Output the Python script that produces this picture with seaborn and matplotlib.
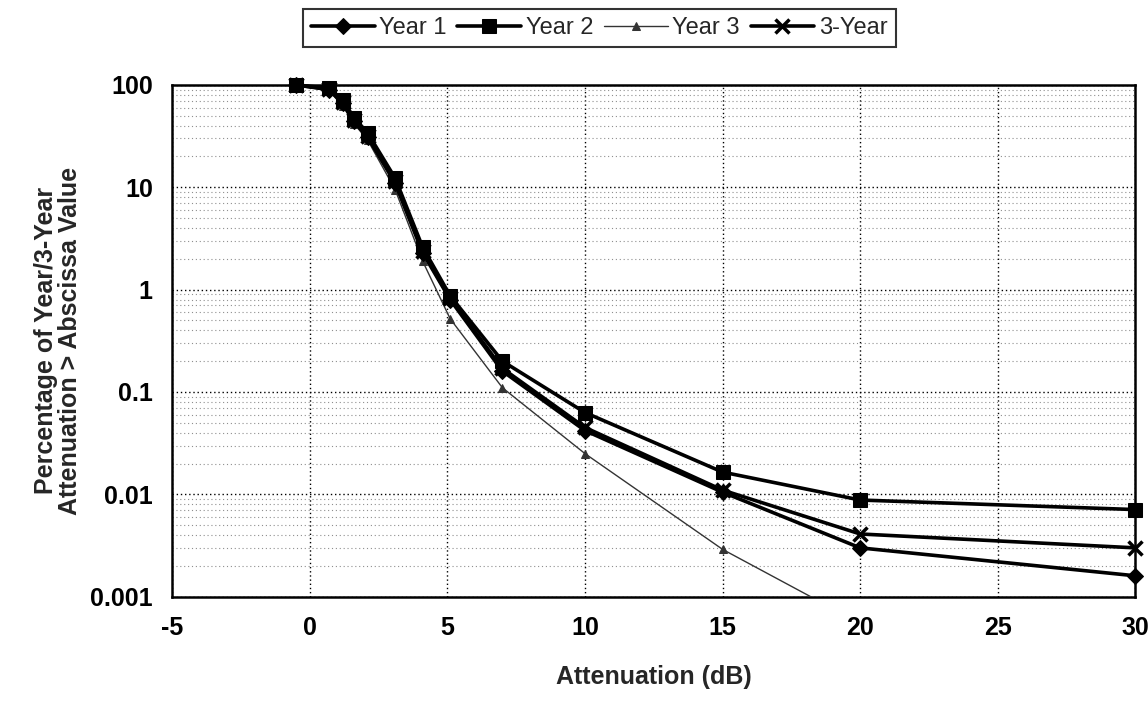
import numpy as np
import pandas as pd
import matplotlib
matplotlib.use("Agg")
import matplotlib.pyplot as plt
import seaborn as sns
from matplotlib.ticker import FixedLocator, NullFormatter, LogLocator

# Attenuation thresholds (dB)
atten = [-0.5, 0.7, 1.2, 1.6, 2.1, 3.1, 4.1, 5.1, 7, 10, 15, 20, 30]

# Percentage of time attenuation exceeds the threshold
year1 = [100, 90, 66, 44, 31, 11.0, 2.3, 0.80, 0.16, 0.042, 0.0105, 0.0030, 0.0016]
year2 = [100, 93, 71, 48, 34, 12.3, 2.6, 0.87, 0.20, 0.063, 0.0165, 0.0088, 0.0071]
year3_x = [-0.5, 0.7, 1.2, 1.6, 2.1, 3.1, 4.1, 5.1, 7, 10, 15, 20]
year3 = [100, 88, 62, 42, 29, 9.5, 1.9, 0.52, 0.11, 0.025, 0.0029, 0.00055]
three_year = [100, 91, 68, 45, 32, 11.5, 2.4, 0.82, 0.17, 0.045, 0.011, 0.0041, 0.0030]

x_ticks = [-5, 0, 5, 10, 15, 20, 25, 30]
y_ticks = [0.001, 0.01, 0.1, 1, 10, 100]
y_tick_labels = ["0.001", "0.01", "0.1", "1", "10", "100"]

sns.set_style("white")
plt.rcParams["font.family"] = ["Liberation Sans", "DejaVu Sans"]

fig = plt.figure(figsize=(11.48, 7.02), dpi=100)
ax = fig.add_axes([0.150, 0.150, 0.839, 0.729])
ax.set_yscale("log")

# Grid: dotted lines at every decade and sub-decade, and every 5 dB
ax.set_axisbelow(True)
ax.yaxis.set_minor_locator(LogLocator(base=10, subs=np.arange(2, 10)))
ax.yaxis.set_minor_formatter(NullFormatter())
ax.grid(which="major", axis="both", color="black", linestyle=(0, (1, 2)), linewidth=1.0)
ax.grid(which="minor", axis="y", color="#8f8f8f", linestyle=(0, (1, 2.5)), linewidth=0.8)

sns.lineplot(x=year3_x, y=year3, ax=ax, color="#333333", linewidth=1.0,
             marker="^", markersize=6, markeredgecolor="#333333",
             label="Year 3", zorder=3, sort=False)
sns.lineplot(x=atten, y=year1, ax=ax, color="black", linewidth=2.6,
             marker="D", markersize=8, markeredgecolor="black",
             label="Year 1", zorder=4, sort=False, clip_on=False)
sns.lineplot(x=atten, y=three_year, ax=ax, color="black", linewidth=2.6,
             marker="x", markersize=10, markeredgewidth=2.5,
             markeredgecolor="black",
             label="3-Year", zorder=5, sort=False, clip_on=False)
sns.lineplot(x=atten, y=year2, ax=ax, color="black", linewidth=2.6,
             marker="s", markersize=10, markeredgecolor="black",
             label="Year 2", zorder=6, sort=False, clip_on=False)

ax.set_xlim(-5, 30)
ax.set_ylim(0.001, 100)
ax.xaxis.set_major_locator(FixedLocator(x_ticks))
ax.set_xticklabels([str(v) for v in x_ticks])
ax.yaxis.set_major_locator(FixedLocator(y_ticks))
ax.set_yticklabels(y_tick_labels)

for s in ax.spines.values():
    s.set_color("black")
    s.set_linewidth(1.8)
    s.set_visible(True)

ax.tick_params(axis="both", which="major", direction="inout", length=12, width=1.3,
               labelsize=18, colors="black", pad=8)
ax.tick_params(axis="y", which="minor", length=0)
for lbl in ax.get_xticklabels() + ax.get_yticklabels():
    lbl.set_fontweight("bold")

ax.set_xlabel("Attenuation (dB)", fontsize=18, fontweight="bold", labelpad=18)
ax.set_ylabel("Percentage of Year/3-Year\nAttenuation > Abscissa Value",
              fontsize=18, fontweight="bold", labelpad=6, linespacing=1.0)

# Legend in the series order Year 1, Year 2, Year 3, 3-Year
handles, labels = ax.get_legend_handles_labels()
order = ["Year 1", "Year 2", "Year 3", "3-Year"]
hmap = dict(zip(labels, handles))
ax.get_legend().remove()
leg = fig.legend([hmap[k] for k in order], order, loc="upper center",
                 bbox_to_anchor=(0.522, 0.994), ncol=4, frameon=True,
                 fancybox=False, edgecolor="black", fontsize=17,
                 handlelength=2.7, handletextpad=0.2, columnspacing=0.45,
                 borderpad=0.35, borderaxespad=0.2)
leg.get_frame().set_linewidth(1.5)

fig.savefig("out.png", dpi=100, facecolor="white")
